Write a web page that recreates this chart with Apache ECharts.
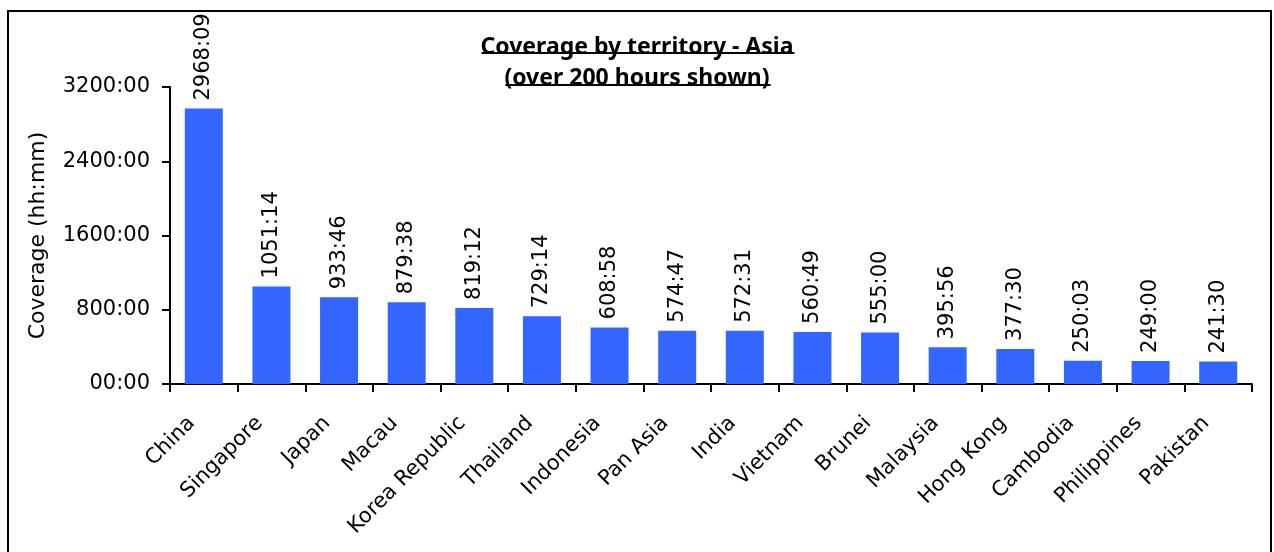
<!DOCTYPE html>
<html>
<head>
<meta charset="utf-8">
<script src="https://cdn.jsdelivr.net/npm/echarts@6/dist/echarts.min.js"></script>
<style>
html,body{margin:0;padding:0;background:#fff;}
#chart{width:1274px;height:552px;}
</style>
</head>
<body>
<div id="chart"></div>
<script>
const territories = ["China","Singapore","Japan","Macau","Korea Republic","Thailand","Indonesia","Pan Asia","India","Vietnam","Brunei","Malaysia","Hong Kong","Cambodia","Philippines","Pakistan"];
const coverageHHMM = ["2968:09","1051:14","933:46","879:38","819:12","729:14","608:58","574:47","572:31","560:49","555:00","395:56","377:30","250:03","249:00","241:30"];
const yTicks = [0, 800, 1600, 2400, 3200];
const titleLines = ["Coverage by territory - Asia", "(over 200 hours shown)"];
const yAxisTitle = "Coverage (hh:mm)";

function toHours(s){ const p = s.split(":"); return Number(p[0]) + Number(p[1])/60; }
const values = coverageHHMM.map(toHours);

const FONT = "'DejaVu Sans', sans-serif";
const TITLE_FONT = "'Noto Sans', sans-serif";
const chart = echarts.init(document.getElementById('chart'));

const cvs = document.createElement('canvas').getContext('2d');
cvs.font = "bold 23px " + TITLE_FONT;
const w1 = cvs.measureText(titleLines[0]).width;
const w2 = cvs.measureText(titleLines[1]).width;
const cx = 638;

chart.setOption({
  animation: false,
  backgroundColor: '#fff',
  title: {
    text: titleLines.join("\n"),
    left: 'center',
    top: 27,
    textStyle: { fontFamily: TITLE_FONT, fontWeight: 'bold', fontSize: 23, lineHeight: 31, color: '#000' }
  },
  grid: { left: 170, right: 22, top: 87, bottom: 168 },
  xAxis: {
    type: 'category',
    data: territories,
    axisLine: { lineStyle: { color: '#000', width: 2 } },
    axisTick: { show: true, length: 8, lineStyle: { color: '#000', width: 2 } },
    axisLabel: { interval: 0, rotate: 45, margin: 24, padding: [0, 17, 0, 0], fontFamily: FONT, fontSize: 21, color: '#000' }
  },
  yAxis: {
    type: 'value',
    min: yTicks[0], max: yTicks[yTicks.length-1], interval: 800,
    name: yAxisTitle,
    nameLocation: 'middle',
    nameGap: 121,
    nameTextStyle: { fontFamily: FONT, fontSize: 22, color: '#000' },
    splitLine: { show: false },
    axisLine: { show: true, lineStyle: { color: '#000', width: 2 } },
    axisTick: { show: true, length: 8, lineStyle: { color: '#000', width: 2 } },
    axisLabel: {
      margin: 20, fontFamily: FONT, fontSize: 21, color: '#000',
      formatter: v => String(v).padStart(2, '0') + ":00"
    }
  },
  series: [{
    type: 'bar',
    data: values,
    barWidth: 38,
    itemStyle: { color: '#3366FF' },
    label: {
      show: true, position: 'top', rotate: 90, align: 'left', verticalAlign: 'middle', distance: 8,
      fontFamily: FONT, fontSize: 21, color: '#000',
      formatter: p => coverageHHMM[p.dataIndex]
    }
  }],
  graphic: [
    { type: 'rect', shape: { x: 8, y: 11, width: 1263, height: 600 }, style: { fill: 'none', stroke: '#000', lineWidth: 2 }, silent: true },
    { type: 'line', shape: { x1: cx - w1/2, y1: 53, x2: cx + w1/2, y2: 53 }, style: { stroke: '#000', lineWidth: 2 } },
    { type: 'line', shape: { x1: cx - w2/2, y1: 85, x2: cx + w2/2, y2: 85 }, style: { stroke: '#000', lineWidth: 2 } }
  ]
});
</script>
</body>
</html>
